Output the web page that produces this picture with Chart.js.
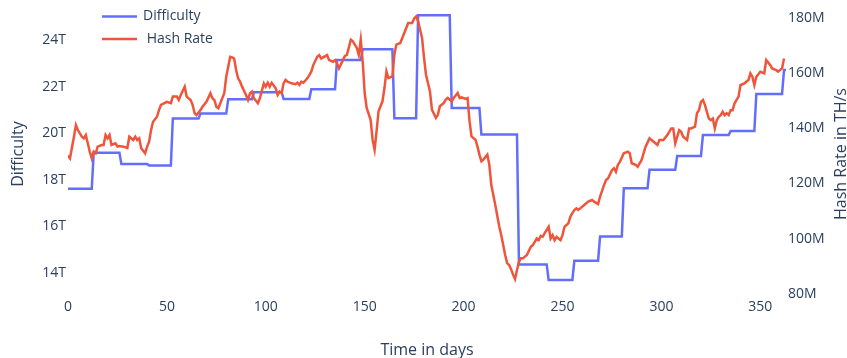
<!DOCTYPE html>
<html>
<head>
<meta charset="utf-8">
<script src="https://cdn.jsdelivr.net/npm/chart.js@4.4.1/dist/chart.umd.min.js"></script>
<style>
  html, body { margin: 0; padding: 0; background: #fff; }
  #wrap { width: 847px; height: 358px; }
</style>
</head>
<body>
<div id="wrap"><canvas id="chart" width="847" height="358"></canvas></div>
<script>
// difficulty is a step series: first day of each level + level in T
const diffStartDays = [0, 13, 27, 41, 53, 67, 81, 94, 109, 123, 136, 149, 165, 177, 194, 209, 228, 243, 256, 269, 281, 294, 308, 321, 335, 348, 362]
const diffLevels = [17.61, 19.16, 18.68, 18.61, 20.63, 20.84, 21.46, 21.76, 21.47, 21.88, 23.14, 23.6, 20.64, 25.06, 21.08, 19.94, 14.37, 13.7, 14.53, 15.57, 17.64, 18.43, 19.02, 19.92, 20.09, 21.68, 22.71]
const lastDay = 363

// hash rate, millions of TH/s
const hashDays = [0, 1, 3, 4, 5, 7, 8, 9, 10, 11, 12, 13, 14, 15, 17, 18, 19, 20, 21, 22, 24, 25, 26, 28, 30, 31, 33, 34, 35, 36, 37, 39, 40, 41, 42, 43, 45, 46, 47, 50, 52, 53, 55, 56, 57, 59, 60, 62, 63, 64, 65, 67, 68, 70, 72, 73, 74, 75, 76, 77, 79, 80, 81, 82, 83, 84, 85, 86, 87, 88, 90, 91, 92, 93, 94, 96, 97, 99, 100, 101, 102, 103, 105, 106, 107, 108, 109, 110, 111, 113, 115, 116, 117, 118, 119, 121, 122, 123, 124, 126, 127, 128, 131, 132, 134, 135, 136, 137, 139, 140, 141, 143, 144, 146, 147, 148, 149, 150, 151, 153, 154, 155, 156, 157, 159, 160, 161, 162, 164, 165, 166, 168, 170, 172, 174, 175, 176, 177, 179, 180, 181, 183, 184, 186, 187, 188, 190, 191, 192, 194, 195, 197, 198, 199, 201, 202, 203, 204, 206, 207, 208, 209, 210, 212, 213, 214, 216, 218, 219, 221, 222, 223, 224, 225, 226, 227, 228, 229, 230, 232, 234, 235, 237, 238, 239, 240, 241, 243, 244, 245, 246, 247, 249, 250, 251, 253, 254, 256, 257, 258, 260, 261, 263, 265, 266, 268, 269, 271, 272, 273, 275, 276, 277, 278, 279, 281, 283, 284, 285, 287, 288, 290, 292, 294, 295, 297, 298, 299, 301, 303, 305, 306, 307, 309, 310, 311, 313, 314, 315, 317, 318, 319, 320, 321, 322, 323, 324, 325, 326, 327, 328, 329, 330, 331, 332, 333, 334, 335, 336, 337, 339, 340, 342, 344, 345, 346, 347, 348, 350, 352, 353, 355, 356, 358, 359, 361, 362]
const hashRate = [130.1, 129.1, 136.9, 141.1, 139.3, 136.9, 136.3, 137.5, 134.5, 131.5, 129.1, 131.5, 130.9, 133.3, 133.9, 133.9, 137.5, 136.3, 137.5, 133.9, 134.5, 133.3, 133.5, 133.3, 132.8, 136.9, 135.7, 136.9, 135.7, 136.3, 132.7, 130.9, 133.3, 135.1, 139.3, 142.3, 144.1, 146.5, 148.4, 149.5, 149.0, 151.4, 151.4, 150.2, 152.0, 155.0, 151.4, 150.2, 148.4, 145.4, 144.7, 146.5, 147.7, 149.5, 152.6, 150.8, 150.2, 147.7, 147.2, 149.0, 152.6, 158.6, 162.2, 165.8, 165.6, 165.2, 161.0, 158.0, 156.8, 155.0, 152.0, 150.2, 152.6, 153.2, 150.8, 149.0, 150.8, 156.2, 155.0, 156.4, 155.0, 156.4, 154.4, 152.0, 153.2, 152.6, 156.2, 157.4, 156.8, 156.2, 155.9, 156.4, 155.6, 156.8, 156.4, 158.0, 159.2, 160.4, 162.8, 165.8, 166.4, 165.2, 166.4, 164.6, 164.0, 164.6, 163.4, 161.6, 164.6, 166.1, 166.5, 172.0, 171.4, 169.0, 166.5, 172.0, 164.0, 152.7, 147.3, 143.0, 135.8, 132.2, 138.8, 146.1, 149.7, 154.5, 160.5, 158.1, 158.7, 166.5, 170.2, 170.8, 174.4, 178.0, 178.0, 179.7, 180.4, 178.6, 172.6, 165.4, 159.3, 153.3, 146.7, 143.7, 144.8, 147.9, 149.1, 150.3, 150.9, 149.7, 150.9, 152.7, 150.9, 151.1, 150.6, 150.9, 142.5, 137.0, 135.8, 133.4, 130.4, 128.0, 128.6, 130.4, 126.8, 119.5, 112.3, 104.5, 101.4, 94.2, 91.2, 90.5, 89.0, 87.0, 85.4, 88.7, 91.7, 92.9, 92.9, 94.1, 97.1, 97.7, 100.1, 99.5, 101.0, 100.7, 102.0, 104.3, 100.1, 101.3, 99.5, 100.7, 99.5, 101.3, 104.3, 105.6, 108.0, 110.4, 111.0, 110.4, 111.6, 112.2, 113.4, 114.0, 113.4, 112.5, 115.2, 119.4, 121.2, 121.8, 124.8, 125.5, 124.2, 126.7, 127.8, 130.9, 131.5, 130.9, 127.3, 126.7, 126.0, 128.5, 133.3, 136.3, 135.7, 134.5, 133.9, 135.7, 135.7, 137.5, 139.9, 139.9, 134.5, 139.3, 138.7, 136.9, 135.7, 139.9, 139.9, 140.5, 145.4, 146.5, 149.5, 150.2, 148.4, 145.9, 143.5, 142.9, 143.5, 139.9, 142.9, 144.1, 144.7, 145.9, 144.7, 145.4, 144.7, 146.5, 146.5, 149.0, 151.4, 155.6, 156.2, 157.4, 159.8, 158.6, 155.6, 158.6, 160.4, 159.8, 164.6, 162.8, 161.6, 161.0, 160.4, 161.6, 165.2]

const xTicks = [0, 50, 100, 150, 200, 250, 300, 350]
const diffTicks = [14, 16, 18, 20, 22, 24]
const hashTicks = [80, 100, 120, 140, 160, 180]

const textColor = '#2a3f5f'
const fontFamily = "'Open Sans', sans-serif"

// step points: each level held until the day before the next one
const diffPoints = []
diffStartDays.forEach((d, i) => {
  const end = i < diffStartDays.length - 1 ? diffStartDays[i + 1] - 1 : lastDay
  diffPoints.push({ x: d, y: diffLevels[i] })
  if (end > d) diffPoints.push({ x: end, y: diffLevels[i] })
})
const hashPoints = hashDays.map((d, i) => ({ x: d, y: hashRate[i] }))

Chart.defaults.font.family = fontFamily
Chart.defaults.font.size = 14
Chart.defaults.color = textColor

// legend inside the plot + right axis title reading bottom-to-top
const extras = {
  id: 'extras',
  afterDraw(chart) {
    const ctx = chart.ctx
    ctx.save()
    ctx.font = '14px ' + fontFamily
    ctx.textBaseline = 'middle'
    ctx.fillStyle = textColor
    const rows = [{ ds: chart.data.datasets[0], y: 16.5 }, { ds: chart.data.datasets[1], y: 39 }]
    rows.forEach((r) => {
      ctx.strokeStyle = r.ds.borderColor
      ctx.lineWidth = 2.5
      ctx.beginPath()
      ctx.moveTo(102, r.y)
      ctx.lineTo(137, r.y)
      ctx.stroke()
      ctx.fillText(r.ds.label, 143, r.y)
    })

    const area = chart.chartArea
    ctx.font = '16px ' + fontFamily
    ctx.textAlign = 'center'
    ctx.translate(841, (area.top + area.bottom) / 2)
    ctx.rotate(-Math.PI / 2)
    ctx.fillText('Hash Rate in TH/s', 0, 0)
    ctx.restore()
  }
}

const ctx = document.getElementById('chart').getContext('2d')
new Chart(ctx, {
  type: 'line',
  data: {
    datasets: [
      {
        label: 'Difficulty',
        data: diffPoints,
        yAxisID: 'y',
        borderColor: '#636efa',
        borderWidth: 2.5,
        pointRadius: 0,
        tension: 0,
        order: 1,
      },
      {
        label: ' Hash Rate',
        data: hashPoints,
        yAxisID: 'y1',
        borderColor: '#EF553B',
        borderWidth: 2.5,
        pointRadius: 0,
        tension: 0,
        order: 0,
      },
    ],
  },
  options: {
    responsive: false,
    animation: false,
    devicePixelRatio: 1,
    layout: { padding: { top: 12, left: 0, right: 0, bottom: 0 } },
    plugins: {
      legend: { display: false },
      tooltip: { enabled: false },
    },
    scales: {
      x: {
        type: 'linear',
        min: 0,
        max: lastDay,
        grid: { display: false, drawTicks: false },
        border: { display: false },
        ticks: { padding: 3, maxRotation: 0 },
        afterBuildTicks: (s) => { s.ticks = xTicks.map((v) => ({ value: v })) },
        afterFit: (s) => { s.height = 62 },
        title: { display: true, text: 'Time in days', font: { size: 16, lineHeight: 1 }, padding: { top: 0, bottom: 0 } },
      },
      y: {
        position: 'left',
        min: 13.013,
        max: 25.2,
        grid: { display: false, drawTicks: false },
        border: { display: false },
        ticks: { padding: 2, callback: (v) => v + 'T' },
        afterBuildTicks: (s) => { s.ticks = diffTicks.map((v) => ({ value: v })) },
        afterFit: (s) => { s.width = 68 },
        title: { display: true, text: 'Difficulty', font: { size: 16 }, padding: { top: 9, bottom: 0 } },
      },
      y1: {
        position: 'right',
        min: 79.28,
        max: 182,
        grid: { display: false, drawTicks: false },
        border: { display: false },
        ticks: { padding: 2, callback: (v) => v + 'M' },
        afterBuildTicks: (s) => { s.ticks = hashTicks.map((v) => ({ value: v })) },
        afterFit: (s) => { s.width = 61 },
      },
    },
  },
  plugins: [extras],
})
</script>
</body>
</html>
